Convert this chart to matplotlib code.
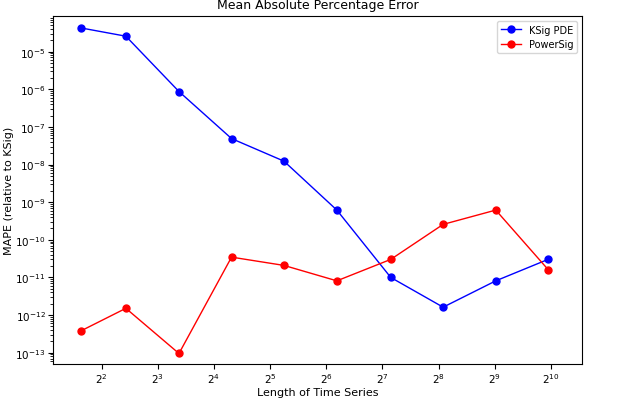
import numpy as np
import matplotlib
matplotlib.use("Agg")
import matplotlib.pyplot as plt

lengths = [3.1, 5.4, 10.4, 19.9, 38, 73, 142, 271, 519, 990]
ksig_exp = [-4.37, -4.59, -6.06, -7.31, -7.91, -9.21, -11.0, -11.79, -11.09, -10.52]
power_exp = [-12.42, -11.82, -13.02, -10.46, -10.68, -11.09, -10.52, -9.59, -9.21, -10.79]

ksig = 10.0 ** np.array(ksig_exp)
power = 10.0 ** np.array(power_exp)

fig = plt.figure(figsize=(6.4, 4.02), dpi=100)
ax = fig.add_axes([0.083, 0.092, 0.826, 0.866])
ax.plot(lengths, ksig, "o-", color="blue", markersize=5, linewidth=1, label="KSig PDE")
ax.plot(lengths, power, "o-", color="red", markersize=5, linewidth=1, label="PowerSig")
ax.set_xscale("log", base=2)
ax.set_yscale("log")
ax.set_xlim(2.2, 1500)
ax.set_ylim(10 ** -13.3, 10 ** -4.05)
ax.set_xticks([2 ** k for k in range(2, 11)])
ax.set_yticks([10.0 ** k for k in range(-13, -4)])
ax.tick_params(labelsize=7.5, pad=2)
ax.set_xlabel("Length of Time Series", fontsize=8, labelpad=1)
ax.set_ylabel("MAPE (relative to KSig)", fontsize=8, labelpad=1)
ax.set_title("Mean Absolute Percentage Error", fontsize=9)
ax.legend(fontsize=7, loc="upper right")
fig.savefig("out.png", dpi=100)
